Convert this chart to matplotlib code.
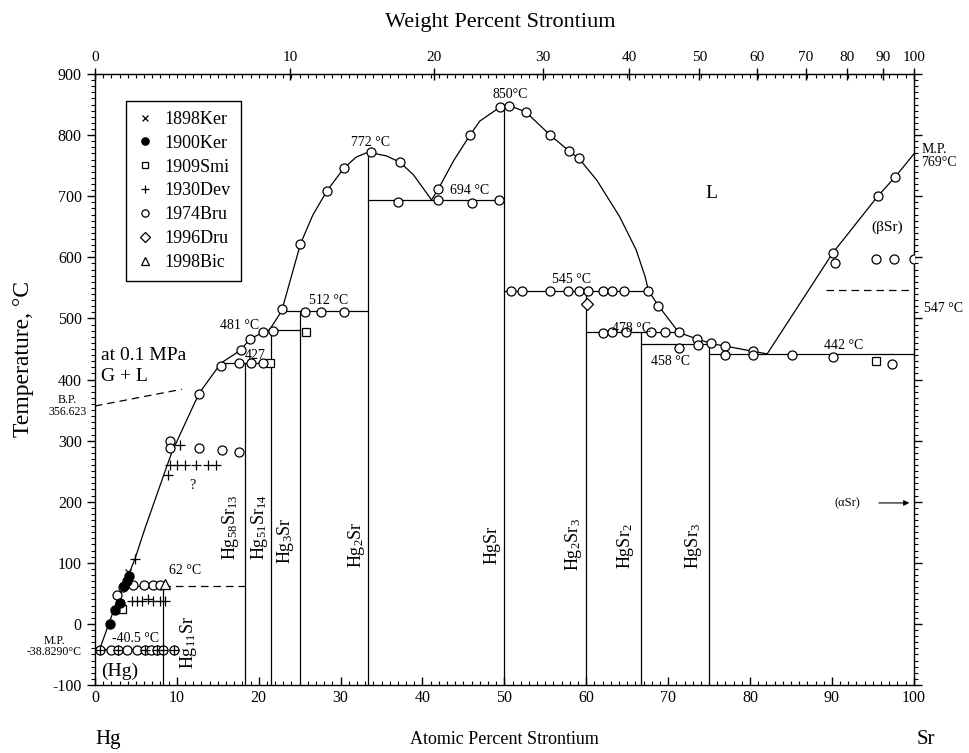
import matplotlib
matplotlib.use("Agg")
import matplotlib.pyplot as plt
from matplotlib.ticker import MultipleLocator, FixedLocator

plt.rcParams['font.family'] = ['Liberation Serif', 'DejaVu Serif']
plt.rcParams['mathtext.fontset'] = 'custom'
plt.rcParams['mathtext.rm'] = 'Liberation Serif'
plt.rcParams['mathtext.it'] = 'Liberation Serif:italic'
plt.rcParams['axes.unicode_minus'] = False

# ---- liquidus branches (at.% Sr, deg C) ----
liq1_x = [0, 0.6, 1.8, 2.8, 3.6, 4.1, 4.9, 6.1, 8.75, 9.4, 10.7, 12.7, 15.4, 17.8, 18.9,
          20.5, 21.3, 22.8, 25.1, 26.6, 28.3, 30.4, 31.9, 33.33]
liq1_t = [-38.8, -40.5, 4, 42, 62, 80, 107, 156, 257, 281, 319, 377, 427, 448, 466,
          477, 481, 512, 622, 669, 708, 746, 764, 772]
liq2_x = [33.33, 35.6, 37.2, 38.9, 41.1]
liq2_t = [772, 766, 756, 735, 694]
liq3_x = [41.1, 41.9, 43.8, 45.8, 47.0, 49.5, 50.3, 52.6, 55.6, 57.9, 59.1, 61.3, 64.1,
          66.1, 67.2, 67.6, 68.8, 71.3, 73.6, 75.5, 76.9, 80.4, 82.1]
liq3_t = [694, 711, 758, 800, 823, 846, 850, 838, 800, 774, 762, 726, 666,
          612, 568, 545, 521, 477, 466, 458, 455, 446, 442]
liq4_x = [82.1, 90.1, 95.6, 97.7, 100]
liq4_t = [442, 607, 700, 731, 769]

# ---- compounds: composition, upper end of line, label ----
comp_x = [8.33, 18.31, 21.54, 25.0, 33.33, 50.0, 60.0, 66.67, 75.0]
comp_top = [62, 427, 481, 512, 772, 850, 545, 478, 458]
comp_names = ["Hg$_{11}$Sr", "Hg$_{58}$Sr$_{13}$", "Hg$_{51}$Sr$_{14}$", "Hg$_{3}$Sr",
              "Hg$_{2}$Sr", "HgSr", "Hg$_{2}$Sr$_{3}$", "HgSr$_{2}$", "HgSr$_{3}$"]
comp_lab_x = [11.4, 16.6, 20.1, 23.3, 31.9, 48.5, 58.4, 64.8, 73.1]
comp_lab_t = [-30, 158, 158, 136, 130, 130, 130, 128, 128]

# ---- invariant horizontals: temperature, from, to ----
inv_t = [-40.5, 62, 427, 481, 512, 694, 545, 478, 458, 442]
inv_x0 = [0, 3.6, 15.4, 21.3, 22.8, 33.33, 50, 60, 66.67, 75]
inv_x1 = [8.33, 8.33, 21.54, 25, 33.33, 50, 67.6, 71.3, 75.5, 100]

# ---- experimental points ----
ker98_x = [4.0]
ker98_t = [85]
ker00_x = [1.8, 2.5, 3.0, 3.6, 3.9, 4.1]
ker00_t = [0, 22, 35, 62, 70, 78]
smi_x = [3.25, 21.4, 25.8, 95.4]
smi_t = [24, 427, 477, 431]
dev_x = [4.9, 4.5, 5.1, 5.7, 6.5, 7.1, 7.9, 8.5, 9.2, 10.0, 11.0, 12.4, 13.8, 14.8,
         8.95, 10.4, 0.6, 2.8, 6.1, 7.6, 8.3, 9.6]
dev_t = [107, 38, 38, 38, 40, 38, 38, 37, 260, 260, 260, 260, 260, 260,
         243, 293, -42, -42, -42, -42, -42, -42]
bru_x = [2.7, 3.4, 4.7, 6.0, 7.1, 7.9,
         0.6, 2.0, 2.8, 3.9, 5.1, 6.1, 6.9, 7.6, 8.3, 9.6,
         9.2, 9.2, 12.7, 15.5, 17.6,
         12.7, 15.4, 17.8, 18.9, 20.5, 21.7,
         17.6, 19.0, 20.5,
         22.8, 25.6, 27.6, 30.4,
         25.1, 28.3, 30.4, 33.7, 37.2,
         37.0, 41.9, 46.0, 49.4, 41.9, 45.8,
         49.5, 50.6, 52.6, 55.6, 57.9, 59.1,
         50.8, 52.2, 55.6, 57.8, 59.1, 60.2, 62.1, 63.2, 64.6, 67.6, 68.8,
         62.1, 63.2, 64.8, 67.9, 69.6, 71.3, 71.3,
         73.5, 73.6, 75.2, 76.9, 77.0, 80.4, 80.4, 85.1, 90.1, 97.4,
         90.1, 90.4, 95.4, 97.6, 100, 95.6, 97.7]
bru_t = [47, 60, 64, 63, 63, 63,
         -42, -42, -42, -42, -42, -42, -42, -42, -42, -42,
         300, 288, 288, 284, 281,
         377, 422, 448, 466, 477, 480,
         427, 427, 427,
         515, 511, 510, 510,
         622, 708, 746, 772, 756,
         691, 694, 689, 694, 711, 800,
         846, 848, 838, 800, 774, 762,
         545, 545, 545, 545, 545, 545, 545, 545, 545, 545, 521,
         476, 477, 477, 477, 477, 477, 452,
         467, 456, 460, 455, 440, 446, 440, 440, 437, 425,
         607, 591, 597, 597, 597, 700, 731]
dru_x = [60.1]
dru_t = [523]
bic_x = [8.5]
bic_t = [65]

K = 2.82
wt_ticks = [0, 10, 20, 30, 40, 50, 60, 70, 80, 90, 100]


def wt_to_at(w):
    return 100 * K * w / (K * w + 100 - w)


fig = plt.figure(figsize=(9.69, 7.53), dpi=100)
ax = fig.add_axes([0.098, 0.0903, 0.845, 0.8114])
ax.set_xlim(0, 100)
ax.set_ylim(-100, 900)

lw = 0.9
for lx, lt in [(liq1_x, liq1_t), (liq2_x, liq2_t), (liq3_x, liq3_t), (liq4_x, liq4_t)]:
    ax.plot(lx, lt, color='k', lw=lw, zorder=2)

for x, top in zip(comp_x, comp_top):
    ax.plot([x, x], [-100, top], color='k', lw=lw, zorder=2)

for t, x0, x1 in zip(inv_t, inv_x0, inv_x1):
    ax.plot([x0, x1], [t, t], color='k', lw=lw, zorder=2)

# dashed lines
ax.plot([8.33, 18.31], [62, 62], color='k', lw=lw, ls=(0, (6, 4)))
ax.plot([89.3, 100], [547, 547], color='k', lw=lw, ls=(0, (6, 4)))
ax.plot([0, 10.6], [356.6, 384], color='k', lw=lw, ls=(0, (6, 4)))

ms = 6.5
h1, = ax.plot(ker98_x, ker98_t, 'x', color='k', ms=5, mew=0.9, label='1898Ker', zorder=4)
h2, = ax.plot(ker00_x, ker00_t, 'o', color='k', ms=ms, label='1900Ker', zorder=4)
h3, = ax.plot(smi_x, smi_t, 's', mfc='white', mec='k', ms=6, mew=0.9, label='1909Smi', zorder=3)
h5, = ax.plot(bru_x, bru_t, 'o', mfc='white', mec='k', ms=ms, mew=0.9, label='1974Bru', zorder=3)
h4, = ax.plot(dev_x, dev_t, '+', color='k', ms=7, mew=0.9, label='1930Dev', zorder=4)
h6, = ax.plot(dru_x, dru_t, 'D', mfc='white', mec='k', ms=6, mew=0.9, label='1996Dru', zorder=4)
h7, = ax.plot(bic_x, bic_t, '^', mfc='white', mec='k', ms=6.5, mew=0.9, label='1998Bic', zorder=4)

# compound labels
for name, lx, lt in zip(comp_names, comp_lab_x, comp_lab_t):
    ax.text(lx, lt, name, rotation=90, ha='center', va='center', fontsize=13)

# temperature labels
fs = 10
ax.text(11.0, 88, "62 °C", ha='center', va='center', fontsize=fs)
ax.text(4.9, -24, "-40.5 °C", ha='center', va='center', fontsize=fs)
ax.text(19.6, 440, "427", ha='center', va='center', fontsize=fs)
ax.text(17.7, 488, "481 °C", ha='center', va='center', fontsize=fs)
ax.text(28.5, 529, "512 °C", ha='center', va='center', fontsize=fs)
ax.text(33.7, 788, "772 °C", ha='center', va='center', fontsize=fs)
ax.text(45.8, 710, "694 °C", ha='center', va='center', fontsize=fs)
ax.text(50.7, 867, "850°C", ha='center', va='center', fontsize=fs)
ax.text(58.2, 563, "545 °C", ha='center', va='center', fontsize=fs)
ax.text(65.5, 484, "478 °C", ha='center', va='center', fontsize=fs)
ax.text(70.3, 429, "458 °C", ha='center', va='center', fontsize=fs)
ax.text(91.4, 456, "442 °C", ha='center', va='center', fontsize=fs)
ax.text(11.9, 227, "?", ha='center', va='center', fontsize=fs)
ax.text(0.7, 440, "at 0.1 MPa", ha='left', va='center', fontsize=14)
ax.text(0.7, 405, "G + L", ha='left', va='center', fontsize=14)
ax.text(3.05, -78, "(Hg)", ha='center', va='center', fontsize=14)
ax.text(75.3, 705, "L", ha='center', va='center', fontsize=14)
ax.text(96.7, 649, "(βSr)", ha='center', va='center', fontsize=11)
ax.text(91.9, 198, "(αSr)", ha='center', va='center', fontsize=9)
ax.annotate('', xy=(99.8, 198), xytext=(95.4, 198),
            arrowprops=dict(arrowstyle='-|>', color='k', lw=0.8, mutation_scale=8))

# labels outside the frame
ax.text(-1.0, 357, "B.P.\n356.623", ha='right', va='center', fontsize=8.5,
        multialignment='center', linespacing=0.95, clip_on=False)
ax.text(-1.6, -37, "M.P.\n-38.8290°C", ha='right', va='center', fontsize=8.5,
        multialignment='center', linespacing=0.9, clip_on=False)
ax.text(100.9, 766, "M.P.\n769°C", ha='left', va='center', fontsize=10,
        multialignment='left', linespacing=0.95, clip_on=False)
ax.text(101.2, 517, "547 °C", ha='left', va='center', fontsize=10, clip_on=False)

# axes and ticks
for s in ax.spines.values():
    s.set_linewidth(1.0)
ax.xaxis.set_major_locator(MultipleLocator(10))
ax.xaxis.set_minor_locator(MultipleLocator(1))
ax.yaxis.set_major_locator(MultipleLocator(100))
ax.yaxis.set_minor_locator(MultipleLocator(10))
ax.tick_params(axis='x', which='both', direction='in', bottom=True, top=False, labelsize=11.5)
ax.tick_params(axis='x', which='major', length=6, width=1)
ax.tick_params(axis='x', which='minor', length=3, width=0.8)
ax.tick_params(axis='y', which='both', direction='out', left=True, right=True, labelsize=11.5)
ax.tick_params(axis='y', which='major', length=6, width=1)
ax.tick_params(axis='y', which='minor', length=3, width=0.8)

top = ax.secondary_xaxis('top', functions=(lambda a: a, lambda a: a))
top.xaxis.set_major_locator(FixedLocator([wt_to_at(w) for w in wt_ticks]))
top.xaxis.set_major_formatter(plt.FixedFormatter([str(w) for w in wt_ticks]))
top.xaxis.set_minor_locator(MultipleLocator(1))
top.tick_params(which='major', direction='inout', length=8, width=1, labelsize=11)
top.tick_params(which='minor', direction='in', length=3, width=0.8)

leg = ax.legend(handles=[h1, h2, h3, h4, h5, h6, h7], loc='upper left',
                bbox_to_anchor=(0.038, 0.956), fontsize=13,
                frameon=True, fancybox=False, edgecolor='k', framealpha=1,
                labelspacing=0.38, handlelength=1.0, handletextpad=0.6,
                borderpad=0.55, borderaxespad=0, markerscale=0.8)
leg.get_frame().set_linewidth(1.0)

fig.text(0.516, 0.970, "Weight Percent Strontium", ha='center', va='center', fontsize=16)
fig.text(0.521, 0.018, "Atomic Percent Strontium", ha='center', va='center', fontsize=13)
fig.text(0.112, 0.018, "Hg", ha='center', va='center', fontsize=15)
fig.text(0.955, 0.018, "Sr", ha='center', va='center', fontsize=15)
fig.text(0.024, 0.523, "Temperature, °C", ha='center', va='center', rotation=90, fontsize=17)

fig.savefig("out.png", dpi=100)
